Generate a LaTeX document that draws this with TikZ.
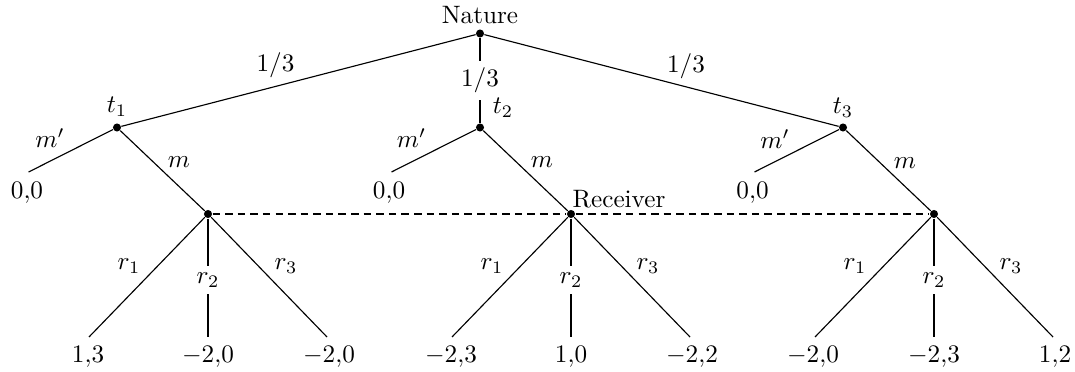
\documentclass[tikz,border=0pt]{standalone}
\begin{document}
\begin{tikzpicture}[x=0.397pt,y=-0.397pt,
  dot/.style={circle,fill,inner sep=0pt,minimum size=3.2pt},
  lbl/.style={inner sep=1pt},
  gaplbl/.style={fill=white,inner sep=2.6pt},
  edge/.style={line width=0.45pt},
  info/.style={line width=0.45pt,dash pattern=on 3pt off 2pt}]
\useasboundingbox (0,0) rectangle (1075,372);
% decision nodes
\node[dot] (N) at (480,33.5) {};
\node[dot] (T1) at (117,127.5) {};
\node[dot] (T2) at (480,127.5) {};
\node[dot] (T3) at (843,127.5) {};
\node[dot] (R1) at (208,214) {};
\node[dot] (R2) at (571,214) {};
\node[dot] (R3) at (934,214) {};
% terminal points
\coordinate (Z1) at (28.6,172);
\coordinate (Z2) at (391.5,172);
\coordinate (Z3) at (754.5,172);
\coordinate (L11) at (89,337);
\coordinate (L12) at (208,337);
\coordinate (L13) at (327,337);
\coordinate (L21) at (452,337);
\coordinate (L22) at (571,337);
\coordinate (L23) at (690,337);
\coordinate (L31) at (815,337);
\coordinate (L32) at (934,337);
\coordinate (L33) at (1053,337);
% edges
\draw[edge] (N) -- (T1);
\draw[edge] (N) -- (T2) node[gaplbl,midway] (p2) {1/3};
\draw[edge] (N) -- (T3);
\draw[edge] (T1) -- (Z1);
\draw[edge] (T2) -- (Z2);
\draw[edge] (T3) -- (Z3);
\draw[edge] (T1) -- (R1);
\draw[edge] (T2) -- (R2);
\draw[edge] (T3) -- (R3);
\draw[info] (R1) -- (R2);
\draw[info] (R2) -- (R3);
\draw[edge] (R1) -- (L11);
\draw[edge] (R1) -- (L12) node[gaplbl,pos=0.52] (a2) {$r_2$};
\draw[edge] (R1) -- (L13);
\draw[edge] (R2) -- (L21);
\draw[edge] (R2) -- (L22) node[gaplbl,pos=0.52] (b2) {$r_2$};
\draw[edge] (R2) -- (L23);
\draw[edge] (R3) -- (L31);
\draw[edge] (R3) -- (L32) node[gaplbl,pos=0.52] (c2) {$r_2$};
\draw[edge] (R3) -- (L33);
% labels
\node[lbl] (natl) at (480,15) {Nature};
\node[lbl] (recl) at (619,199) {Receiver};
\node[lbl] (p1) at (275.5,65.5) {1/3};
\node[lbl] (p3) at (686,66) {1/3};
\node[lbl] (t1l) at (117,107) {$t_1$};
\node[lbl] (t2l) at (503,108) {$t_2$};
\node[lbl] (t3l) at (843,108) {$t_3$};
\node[lbl] (mp1) at (50,138) {$m'$};
\node[lbl] (mp2) at (411.5,138) {$m'$};
\node[lbl] (mp3) at (775,139) {$m'$};
\node[lbl] (m1) at (179,162) {$m$};
\node[lbl] (m2) at (542,162) {$m$};
\node[lbl] (m3) at (905,163) {$m$};
\node[lbl] (z1l) at (27,193) {$0{,}0$};
\node[lbl] (z2l) at (389,193) {$0{,}0$};
\node[lbl] (z3l) at (752.5,193) {$0{,}0$};
\node[lbl] (a1) at (129,266) {$r_1$};
\node[lbl] (a3) at (286,266) {$r_3$};
\node[lbl] (b1) at (492,266) {$r_1$};
\node[lbl] (b3) at (648,266) {$r_3$};
\node[lbl] (c1) at (855,266) {$r_1$};
\node[lbl] (c3) at (1011,266) {$r_3$};
\node[lbl] (o11) at (88,357) {$1{,}3$};
\node[lbl] (o12) at (208,357) {$-2{,}0$};
\node[lbl] (o13) at (329,357) {$-2{,}0$};
\node[lbl] (o21) at (451,357) {$-2{,}3$};
\node[lbl] (o22) at (571,357) {$1{,}0$};
\node[lbl] (o23) at (692,357) {$-2{,}2$};
\node[lbl] (o31) at (813,357) {$-2{,}0$};
\node[lbl] (o32) at (934,357) {$-2{,}3$};
\node[lbl] (o33) at (1055,357) {$1{,}2$};
\end{tikzpicture}
\end{document}
